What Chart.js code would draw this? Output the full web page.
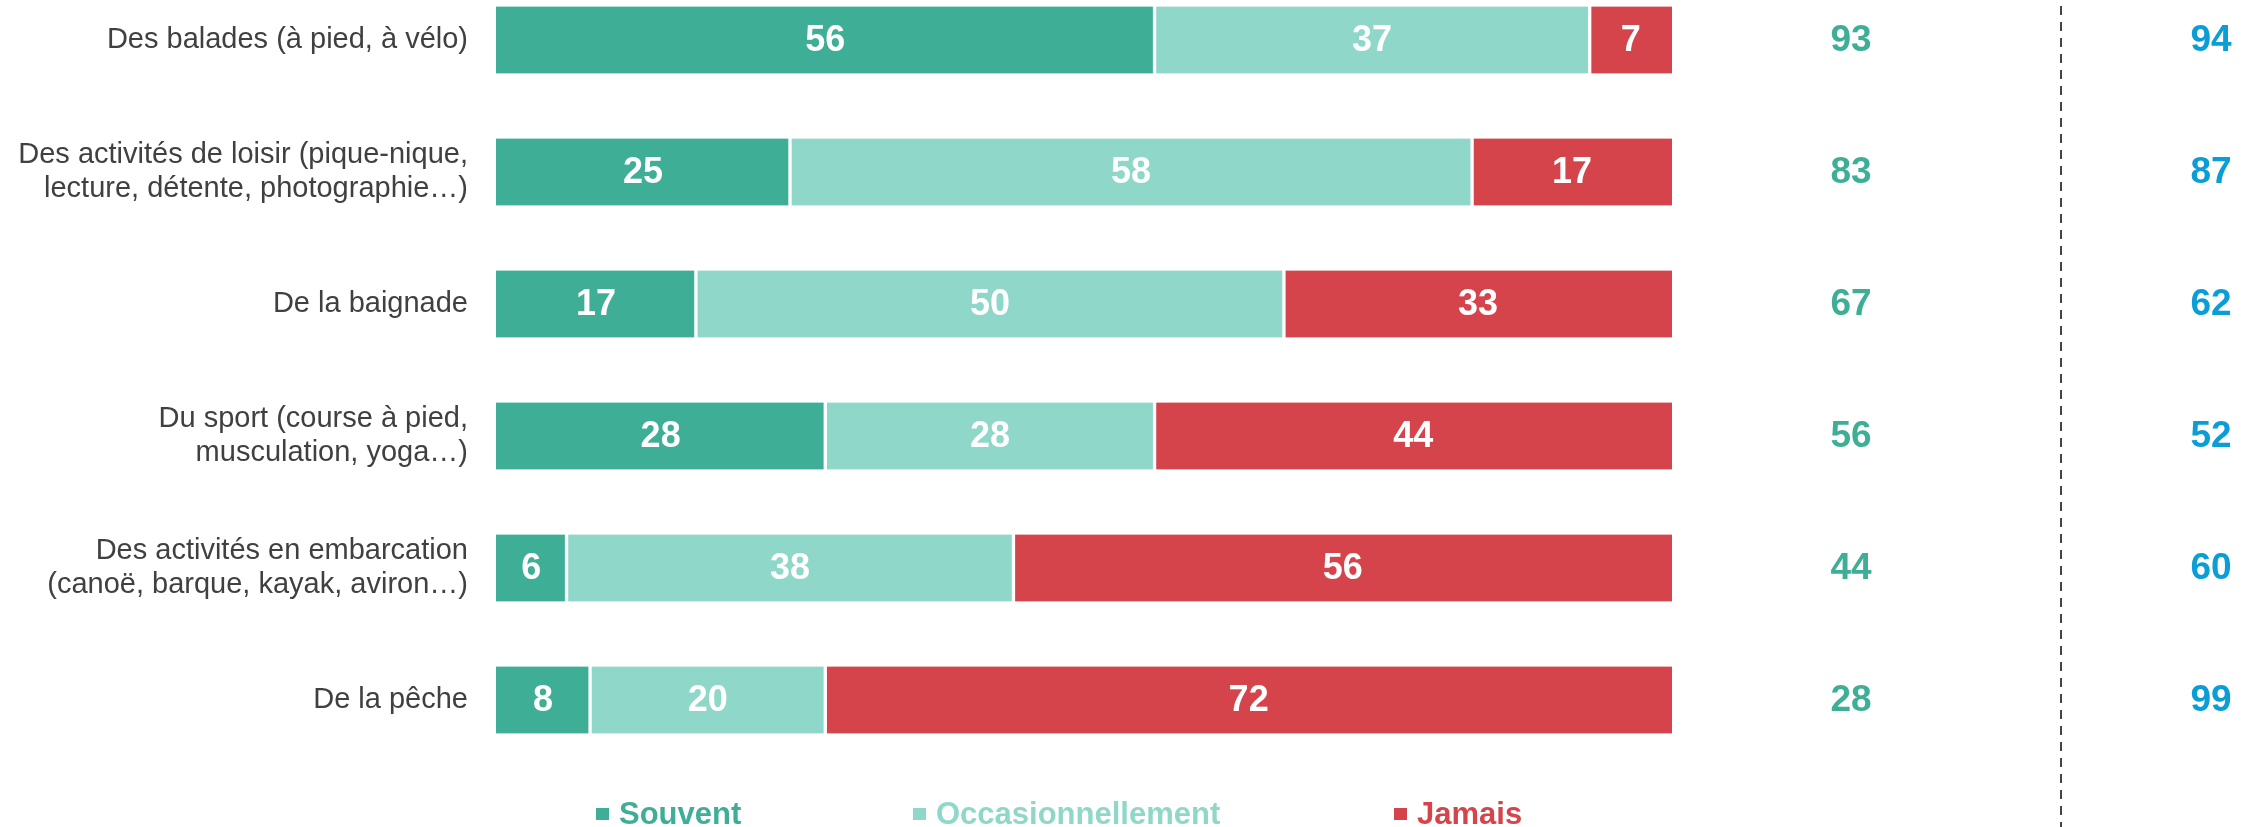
<!DOCTYPE html>
<html><head><meta charset="utf-8">
<script src="https://cdn.jsdelivr.net/npm/chart.js@4.4.1/dist/chart.umd.min.js"></script>
<style>html,body{margin:0;padding:0;background:#fff}#wrap{width:2260px;height:827px;position:relative}</style>
</head><body><div id="wrap"><canvas id="c" width="2260" height="827"></canvas></div>
<script>
const categories = [
  ["Des balades (à pied, à vélo)"],
  ["Des activités de loisir (pique-nique,", "lecture, détente, photographie…)"],
  ["De la baignade"],
  ["Du sport (course à pied,", "musculation, yoga…)"],
  ["Des activités en embarcation", "(canoë, barque, kayak, aviron…)"],
  ["De la pêche"]
];
const seriesNames = ["Souvent", "Occasionnellement", "Jamais"];
const souvent = [56, 25, 17, 28, 6, 8];
const occasionnellement = [37, 58, 50, 28, 38, 20];
const jamais = [7, 17, 33, 44, 56, 72];
const totalPratique = [93, 83, 67, 56, 44, 28];
const comparaison = [94, 87, 62, 52, 60, 99];

const C_SOUVENT = '#3FAE96';
const C_OCC = '#8FD7C9';
const C_JAMAIS = '#D6444B';
const C_BLUE = '#0A9DD6';
const FONT = '"Liberation Sans", Arial, sans-serif';

const extras = {
  id: 'extras',
  afterDatasetsDraw(chart) {
    const ctx = chart.ctx;
    ctx.save();
    ctx.fillStyle = '#fff';
    ctx.font = 'bold 36px ' + FONT;
    ctx.textAlign = 'center';
    ctx.textBaseline = 'middle';
    chart.data.datasets.forEach((ds, di) => {
      const meta = chart.getDatasetMeta(di);
      meta.data.forEach((el, i) => {
        const p = el.getCenterPoint();
        ctx.fillText(String(ds.data[i]), p.x, p.y + 1);
      });
    });
    const y = chart.scales.y;
    ctx.font = 'bold 37px ' + FONT;
    totalPratique.forEach((v, i) => {
      ctx.fillStyle = C_SOUVENT;
      ctx.fillText(String(v), 1851, y.getPixelForValue(i) + 1);
    });
    comparaison.forEach((v, i) => {
      ctx.fillStyle = C_BLUE;
      ctx.fillText(String(v), 2211, y.getPixelForValue(i) + 1);
    });
    ctx.strokeStyle = '#444';
    ctx.lineWidth = 2;
    ctx.setLineDash([9, 7]);
    ctx.beginPath();
    ctx.moveTo(2061, 6);
    ctx.lineTo(2061, 827);
    ctx.stroke();
    ctx.setLineDash([]);
    const legendX = [596, 913, 1394];
    const legendY = 814;
    ctx.font = 'bold 31px ' + FONT;
    ctx.textAlign = 'left';
    chart.data.datasets.forEach((ds, di) => {
      ctx.fillStyle = ds.backgroundColor;
      ctx.fillRect(legendX[di], legendY - 6, 13, 12);
      ctx.fillText(ds.label, legendX[di] + 23, legendY + 1);
    });
    ctx.restore();
  }
};

new Chart(document.getElementById('c'), {
  type: 'bar',
  data: {
    labels: categories,
    datasets: [
      { label: seriesNames[0], data: souvent, backgroundColor: C_SOUVENT, borderColor: '#fff', borderWidth: {left: 0, right: 2, top: 0, bottom: 0}, borderSkipped: false },
      { label: seriesNames[1], data: occasionnellement, backgroundColor: C_OCC, borderColor: '#fff', borderWidth: {left: 2, right: 2, top: 0, bottom: 0}, borderSkipped: false },
      { label: seriesNames[2], data: jamais, backgroundColor: C_JAMAIS, borderColor: '#fff', borderWidth: {left: 2, right: 0, top: 0, bottom: 0}, borderSkipped: false }
    ]
  },
  options: {
    indexAxis: 'y',
    responsive: false,
    animation: false,
    devicePixelRatio: 1,
    layout: { padding: { left: 0, right: 588, top: 40, bottom: 127 } },
    datasets: { bar: { barThickness: 67, clip: false } },
    plugins: { legend: { display: false }, tooltip: { enabled: false } },
    scales: {
      x: { stacked: true, min: 0, max: 100, display: false },
      y: {
        stacked: true,
        offset: false,
        grid: { display: false, drawTicks: false },
        border: { display: false },
        ticks: { color: '#404040', padding: 28, font: { family: FONT, size: 29, lineHeight: 1.19 } },
        afterFit(scale) { scale.width = 496; scale.paddingTop = 0; scale.paddingBottom = 0; }
      }
    }
  },
  plugins: [extras]
});
</script>
</body></html>
